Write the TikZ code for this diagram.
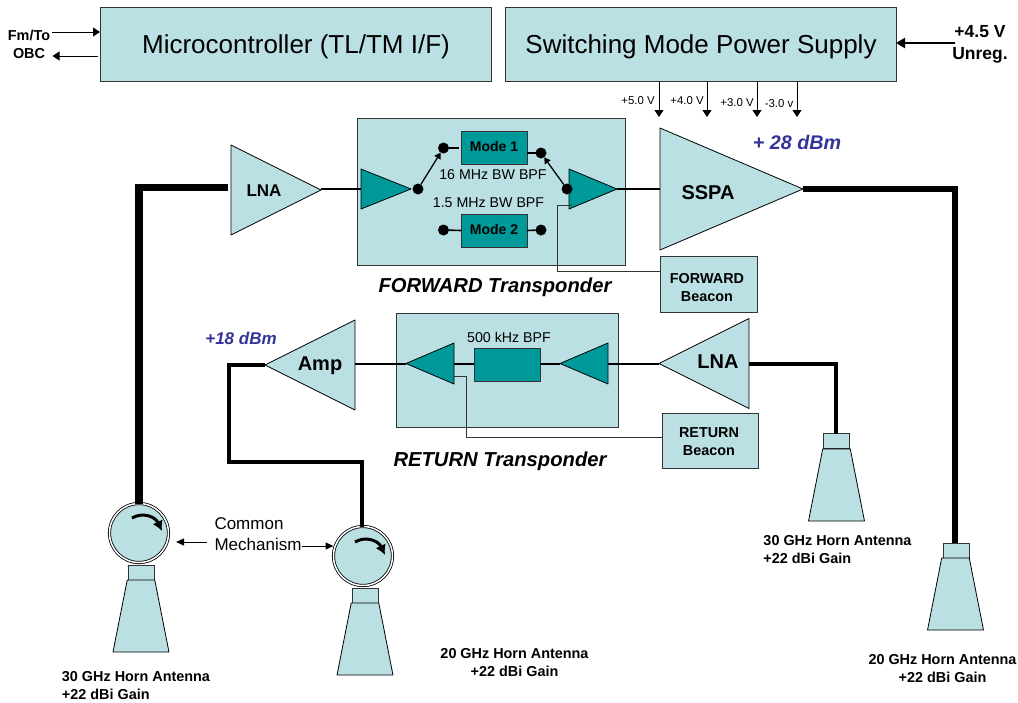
\documentclass[tikz,border=0pt]{standalone}
\usepackage{fontspec}
\setmainfont{Liberation Sans}
\usetikzlibrary{arrows.meta,shapes.geometric}
\definecolor{panelblue}{HTML}{BBE0E3}
\definecolor{tealfill}{HTML}{009999}
\definecolor{edgegray}{HTML}{333333}
\definecolor{gainblue}{HTML}{333399}
\newcommand{\fsz}[1]{\fontsize{#1}{#1}\selectfont}

\tikzset{
  panel/.style={draw=edgegray,fill=panelblue,line width=1pt,inner sep=0pt,outer sep=0pt,rectangle},
  filterbox/.style={draw=edgegray,fill=tealfill,line width=1pt,inner sep=0pt,outer sep=0pt,rectangle},
  tri/.style 2 args={isosceles triangle,isosceles triangle stretches,inner sep=0pt,outer sep=0pt,
    minimum height=#1pt,minimum width=#2pt,draw=black,line width=0.8pt,line join=round},
  dot/.style={circle,fill=black,inner sep=0pt,outer sep=0pt,minimum size=11pt},
  flare/.style={trapezium,trapezium stretches=true,trapezium angle=64,draw=black,fill=panelblue,line width=0.8pt,
    inner sep=0pt,outer sep=0pt,minimum width=56pt,minimum height=72pt},
  neck/.style={rectangle,draw=edgegray,fill=panelblue,line width=1pt,inner sep=0pt,outer sep=0pt,
    minimum width=26pt,minimum height=15pt},
  joint/.style={circle,draw=black,fill=panelblue,double=white,double distance=1.5pt,line width=0.8pt,
    inner sep=0pt,outer sep=0pt,minimum size=59pt},
  bold14/.style={font=\bfseries\fontsize{14.4}{18}\selectfont,align=center,inner sep=0pt},
  plain14/.style={font=\fsz{14.2},inner sep=0pt},
  plain11/.style={font=\fsz{11.4},inner sep=0pt},
  volt/.style={draw=black,line width=1pt,-{Triangle[length=7pt,width=9pt]}},
  wire/.style={draw=black,line width=1.6pt},
  retwire/.style={draw=black,line width=2pt},
  thinwire/.style={draw=edgegray,line width=0.9pt},
  mid/.style={draw=black,line width=3.7pt,line join=miter}
}

\begin{document}
\begin{tikzpicture}[x=1pt,y=1pt,yscale=-1]
\useasboundingbox (0,0) rectangle (1018,702);

% top row
\node[panel,minimum width=391pt,minimum height=74pt] (micro) at (295.5,44) {};
\node[font=\fsz{26},inner sep=0pt] (microtxt) at (296,47) {Microcontroller (TL/TM I/F)};
\node[panel,minimum width=391pt,minimum height=74pt] (smps) at (700.5,44) {};
\node[font=\fsz{26},inner sep=0pt] (smpstxt) at (701,47) {Switching Mode Power Supply};

\node[bold14] (fmto) at (29,44) {Fm/To\\OBC};
\coordinate (fmin) at (52,32);
\coordinate (obcout) at (52.5,56);
\draw[volt] (fmin) -- (fmin -| micro.west);
\draw[volt] (98,56) -- (obcout);

\node[font=\bfseries\fontsize{17.5}{22}\selectfont,align=center,inner sep=0pt] (unreg) at (980,44) {+4.5 V\\Unreg.};
\coordinate (unregin) at (955,43);
\draw[draw=black,line width=2.2pt,-{Triangle[length=9pt,width=10pt]}] (unregin) -- (unregin -| smps.east);

% supply rails
\coordinate (rail5) at (659,117);
\coordinate (rail4) at (707,117);
\coordinate (rail3) at (757,117);
\coordinate (railn3) at (797,117);
\draw[volt] (rail5 |- smps.south) -- (rail5);
\draw[volt] (rail4 |- smps.south) -- (rail4);
\draw[volt] (rail3 |- smps.south) -- (rail3);
\draw[volt] (railn3 |- smps.south) -- (railn3);
\node[plain11] (lab5) at (638,101) {+5.0 V};
\node[plain11] (lab4) at (687,100.5) {+4.0 V};
\node[plain11] (lab3) at (737,103) {+3.0 V};
\node[plain11] (labn3) at (779,104) {-3.0 v};

% forward chain
\node[panel,minimum width=268pt,minimum height=147pt] (fwdpanel) at (491,191.5) {};
\node[tri={90}{90},fill=panelblue,anchor=apex] (lnaf) at (321,190) {};
\node[font=\bfseries\fsz{17},inner sep=0pt] (lnaftxt) at (264,190.5) {LNA};
\node[tri={50}{40},fill=tealfill,anchor=apex] (fwdin) at (411,189) {};
\node[tri={48}{40},fill=tealfill,anchor=apex] (fwdout) at (617,189) {};
\node[tri={143}{122},fill=panelblue,anchor=apex] (sspa) at (803,189) {};
\node[font=\bfseries\fsz{20},inner sep=0pt] (sspatxt) at (708,192.5) {SSPA};

\node[filterbox,minimum width=66pt,minimum height=33pt] (modea) at (494,148) {};
\node[font=\bfseries\fsz{14},inner sep=0pt] (modeatxt) at (494,146) {Mode 1};
\node[filterbox,minimum width=66pt,minimum height=33pt] (modeb) at (494,230.5) {};
\node[font=\bfseries\fsz{14},inner sep=0pt] (modebtxt) at (494,229) {Mode 2};
\node[plain14] (bwa) at (493,175) {16 MHz BW BPF};
\node[plain14] (bwb) at (488.5,203) {1.5 MHz BW BPF};

\node[dot] (swin) at (418,189) {};
\node[dot] (swa) at (443.5,148) {};
\node[dot] (swb) at (541,153) {};
\node[dot] (swc) at (567,189) {};
\node[dot] (swd) at (443.5,230) {};
\node[dot] (swe) at (541,230) {};
\draw[wire] (swa) -- (459,148);
\draw[wire] (modea.east |- swb) -- (swb);
\draw[wire] (swd) -- (modeb.west);
\draw[wire] (modeb.east) -- (swe);
\draw[draw=black,line width=1.3pt,-{Triangle[length=6pt,width=7pt]}] (swin) -- (swa);
\draw[draw=black,line width=1.3pt,-{Triangle[length=6pt,width=7pt]}] (swc) -- (swb);

\draw[wire] (fwdin.lower side -| lnaf.apex) -- (fwdin.lower side);
\draw[wire] (fwdout.apex) -- (fwdout.apex -| sspa.lower side);

\node[panel,minimum width=97pt,minimum height=56pt] (fwdbeacon) at (708.5,284) {};
\node[bold14] (fwdbeacontxt) at (707,287.5) {FORWARD\\Beacon};
\coordinate (fwdtap) at (572,205);
\coordinate (fwdbend) at (557,205);
\draw[thinwire] (fwdtap) -- (fwdbend) -- (fwdbend |- 0,271) -- (fwdbeacon.west |- 0,271);
\node[font=\bfseries\itshape\fsz{20.2},inner sep=0pt] (fwdtitle) at (495,287) {FORWARD Transponder};
\node[font=\bfseries\itshape\fsz{19.7},text=gainblue,inner sep=0pt] (gainf) at (797,142) {+ 28 dBm};

% return chain
\node[panel,minimum width=222pt,minimum height=114pt] (retpanel) at (507,370) {};
\node[tri={90}{90},fill=panelblue,shape border rotate=180,anchor=apex] (lnar) at (659,363.5) {};
\node[font=\bfseries\fsz{20},inner sep=0pt] (lnartxt) at (718,362) {LNA};
\node[tri={48}{41},fill=tealfill,shape border rotate=180,anchor=apex] (retin) at (560,363.5) {};
\node[tri={48}{41},fill=tealfill,shape border rotate=180,anchor=apex] (retout) at (406,363.5) {};
\node[filterbox,minimum width=66pt,minimum height=33pt] (retfilter) at (507,364.5) {};
\node[plain14] (retbw) at (509,337) {500 kHz BPF};
\node[tri={90}{90},fill=panelblue,shape border rotate=180,anchor=apex] (amp) at (265,365) {};
\node[font=\bfseries\fsz{20},inner sep=0pt] (amptxt) at (320,366) {Amp};
\node[font=\bfseries\itshape\fsz{17},text=gainblue,inner sep=0pt] (gainr) at (241,338) {+18 dBm};

\draw[retwire] (lnar.apex) -- (retin.lower side);
\draw[retwire] (retin.apex) -- (retin.apex -| retfilter.east);
\draw[retwire] (retin.apex -| retfilter.west) -- (retout.lower side);
\draw[retwire] (retout.apex) -- (retout.apex -| amp.lower side);

\node[panel,minimum width=96pt,minimum height=55pt] (retbeacon) at (710,440.5) {};
\node[bold14] (retbeacontxt) at (709,442) {RETURN\\Beacon};
\coordinate (rettap) at (454,376);
\coordinate (retbend) at (466,376);
\draw[thinwire] (rettap) -- (retbend) -- (retbend |- 0,437) -- (retbeacon.west |- 0,437);
\node[font=\bfseries\itshape\fsz{20.2},inner sep=0pt] (rettitle) at (500,461) {RETURN Transponder};

% horns
\node[joint] (jointa) at (139,533) {};
\node[neck] (necka) at (141.5,572.5) {};
\node[flare] (horna) at (141,616) {\phantom{x}};
\node[joint] (jointb) at (363,556) {};
\node[neck] (neckb) at (365,595.5) {};
\node[flare] (hornb) at (365,639) {\phantom{x}};
\node[neck] (neckc) at (836,441) {};
\node[flare] (hornc) at (836.5,485) {\phantom{x}};
\node[neck] (neckd) at (956,550.5) {};
\node[flare] (hornd) at (955.5,594) {\phantom{x}};

\draw[draw=black,line width=3pt,-{Latex[length=10pt,width=11pt]}] (132,518) .. controls (142,512) and (155,516) .. (162,531);
\draw[draw=black,line width=3pt,-{Latex[length=10pt,width=11pt]}] (355,542) .. controls (365,536) and (378,540) .. (385,555);

% feeds
\coordinate (kneea) at (139,187.5);
\coordinate (kneetop) at (139,184);
\coordinate (kneeb) at (955.3,189);
\coordinate (kneec) at (229,365);
\coordinate (kneed) at (229,462);
\coordinate (kneee) at (362,462);
\coordinate (kneef) at (836,364);
\draw[draw=black,line width=6.5pt] (228,187.5) -- (kneea);
\draw[draw=black,line width=8.5pt] (kneetop) -- (jointa.north);
\draw[draw=black,line width=6pt,line join=miter] (sspa.apex) -- (kneeb) -- (neckd.north -| kneeb);
\draw[mid] (amp.apex) -- (kneec) -- (kneed) -- (kneee) -- (kneee |- jointb.north);
\draw[mid] (lnar.lower side |- kneef) -- (kneef) -- (neckc.north);

% common mechanism
\node[font=\fsz{17},inner sep=0pt] (commonmech) at (249,524) {Common};
\node[font=\fsz{17},inner sep=0pt] (mechtxt) at (258,544) {Mechanism};
\coordinate (mechtip) at (176,542);
\draw[draw=black,line width=1pt,-{Triangle[length=8pt,width=7pt]}] (207,542) -- (mechtip);
\draw[draw=black,line width=1pt,-{Triangle[length=8pt,width=7pt]}] (mechtxt.east |- 0,546) -- (jointb.west |- 0,546);

% captions
\node[bold14,align=left] (capa) at (136,685.5) {30 GHz Horn Antenna\\+22 dBi Gain};
\node[bold14] (capb) at (514.5,662.5) {20 GHz Horn Antenna\\+22 dBi Gain};
\node[bold14,align=left] (capc) at (837.5,549.5) {30 GHz Horn Antenna\\+22 dBi Gain};
\node[bold14] (capd) at (942.5,669) {20 GHz Horn Antenna\\+22 dBi Gain};
\end{tikzpicture}
\end{document}
